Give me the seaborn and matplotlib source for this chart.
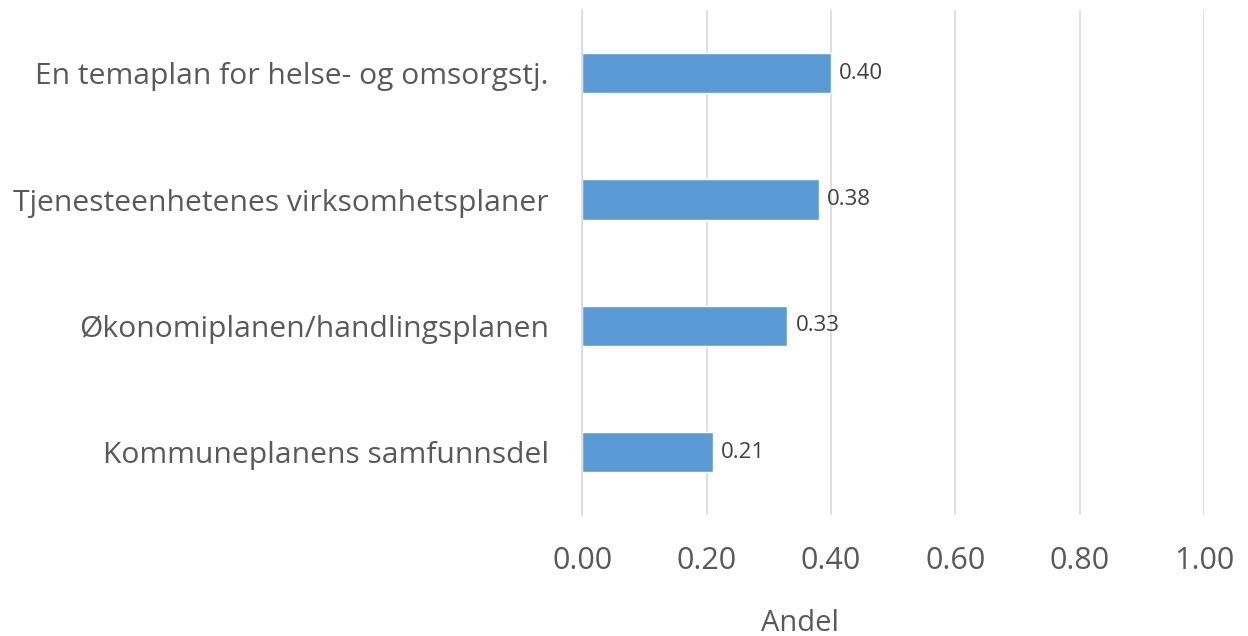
import seaborn as sns
import matplotlib.pyplot as plt
import pandas as pd

# data
categories = [
    "En temaplan for helse- og omsorgstj.",
    "Tjenesteenhetenes virksomhetsplaner",
    "Økonomiplanen/handlingsplanen",
    "Kommuneplanens samfunnsdel",
]
andel = [0.40, 0.38, 0.33, 0.21]
x_ticks = [0.0, 0.2, 0.4, 0.6, 0.8, 1.0]

df = pd.DataFrame({"kategori": categories, "andel": andel})

sns.set_style("white")
plt.rcParams["font.family"] = ["Open Sans", "DejaVu Sans"]

fig = plt.figure(figsize=(12.48, 6.36), dpi=100)
ax = fig.add_axes([0.4665, 0.19, 0.4985, 0.794])

sns.barplot(data=df, x="andel", y="kategori", orient="h", color="#5B9BD5",
            saturation=1, width=0.32, ax=ax)

# grid lines
ax.set_xlim(0, 1.0)
ax.set_xticks(x_ticks)
ax.set_xticklabels([f"{t:.2f}" for t in x_ticks])
ax.grid(axis="x", color="#D9D9D9", linewidth=1.2)
ax.set_axisbelow(True)
for side in ["top", "right", "bottom"]:
    ax.spines[side].set_visible(False)
ax.spines["left"].set_color("#D9D9D9")
ax.spines["left"].set_linewidth(1.2)

ax.tick_params(axis="y", length=0, colors="#595959", labelsize=21.6, pad=24)
ax.tick_params(axis="x", length=0, colors="#595959", labelsize=22, pad=22)

# data labels
for i, v in enumerate(andel):
    ax.text(v + 0.013, i, f"{v:.2f}", va="center", ha="left",
            fontsize=16, color="#404040")

ax.set_ylabel("")
ax.set_xlabel("Andel", fontsize=21, color="#595959")
ax.xaxis.set_label_coords(0.35, -0.185)

fig.savefig("out.png", dpi=100)
